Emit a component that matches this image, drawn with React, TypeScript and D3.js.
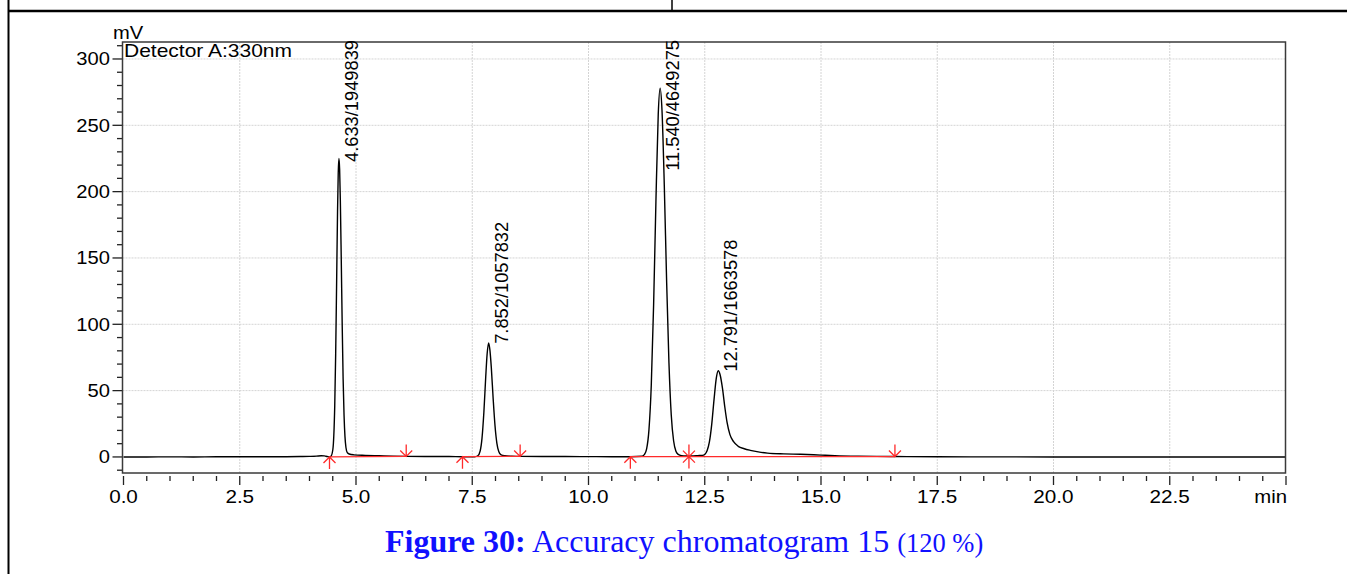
import React, { useEffect, useRef } from 'react';
import * as d3 from 'd3';

const W = 1347;
const H = 574;

// Chromatogram trace (time in min, signal in mV)
const traceTime = [
  0.0, 0.5, 1.0, 1.5, 2.0, 2.5, 3.0, 3.5, 3.8, 4.0, 4.15, 4.25, 4.32, 4.38, 4.43, 4.46,
  4.503, 4.523, 4.543, 4.563, 4.583, 4.603, 4.618, 4.633, 4.648, 4.663, 4.683, 4.703, 4.723, 4.743, 4.763, 4.783, 4.813, 4.853,
  4.95, 5.2, 5.5, 5.8, 6.08, 6.5, 7.0, 7.29, 7.55,
  7.62, 7.67, 7.71, 7.75, 7.79, 7.82, 7.852, 7.88, 7.91, 7.95, 7.99, 8.03, 8.07, 8.12, 8.2, 8.35, 8.53,
  9.0, 9.5, 10.0, 10.5, 10.9, 11.15,
  11.2, 11.25, 11.3, 11.35, 11.4, 11.45, 11.5, 11.54, 11.58, 11.63, 11.68, 11.73, 11.78, 11.83, 11.88, 11.93,
  12.0, 12.1, 12.16, 12.25, 12.35, 12.45,
  12.5, 12.55, 12.6, 12.65, 12.7, 12.75, 12.791, 12.83, 12.88, 12.93, 12.98, 13.04, 13.12, 13.22, 13.35, 13.48,
  13.65, 13.85, 14.2, 14.56, 15.0, 15.3, 15.8, 16.2, 16.59, 17.5, 18.5, 20.0, 22.0, 25.0,
];
const traceMv = [
  0.0, 0.0, 0.05, 0.0, 0.1, 0.1, 0.15, 0.2, 0.3, 0.4, 0.6, 0.9, 0.8, 0.3, 0.0, 0.4,
  5.8, 16.3, 38.8, 77.7, 130.8, 185, 214, 225, 216.8, 193.9, 148.9, 100, 59, 31.5, 15.3, 7.3, 3.2, 2.2,
  1.6, 1.2, 0.9, 0.6, 0.4, 0.3, 0.3, 0.2, 0.2,
  0.9, 4.5, 14.2, 33.7, 60.4, 77.6, 86, 80.5, 67.3, 43.7, 23.3, 10.3, 4.1, 1.5, 0.9, 0.6, 0.4,
  0.3, 0.3, 0.25, 0.2, 0.2, 0.5,
  1.7, 6.1, 20.4, 54, 114.3, 192.6, 258.5, 278, 261.7, 204.7, 132.5, 71, 31.4, 12.2, 4.3, 1.9,
  1.0, 0.7, 0.7, 0.8, 1.0, 1.2,
  1.9, 4.6, 11.3, 24.6, 43.4, 59.8, 65, 62, 52, 38, 26, 17, 11.5, 8, 6.2, 5,
  3.8, 2.9, 2.3, 2.0, 1.4, 1.0, 0.6, 0.4, 0.3, 0.1, 0.05, 0.0, 0.0, 0.0,
];

// Peak table
const peakTime = [4.633, 7.852, 11.54, 12.791];
const peakHeight = [225, 86, 278, 65];
const peakArea = [1949839, 1057832, 4649275, 1663578];

// Integration baselines
const integStart = [4.43, 7.29, 10.9, 12.16];
const integStartMv = [0.0, 0.2, 0.2, 0.25];
const integEnd = [6.08, 8.53, 12.16, 16.59];
const integEndMv = [0.4, 0.4, 0.25, 0.3];

// Axes
const xMajorTicks = [0, 2.5, 5, 7.5, 10, 12.5, 15, 17.5, 20, 22.5];
const xTickLabels = ['0.0', '2.5', '5.0', '7.5', '10.0', '12.5', '15.0', '17.5', '20.0', '22.5'];
const yMajorTicks = [0, 50, 100, 150, 200, 250, 300];
const yTickLabels = ['0', '50', '100', '150', '200', '250', '300'];

const FONT = "'Liberation Sans', Arial, Helvetica, sans-serif";
const SERIF = "'Liberation Serif', 'Times New Roman', serif";
const RED = '#ff2a2a';

export default function App() {
  const ref = useRef<SVGSVGElement>(null);

  useEffect(() => {
    const svg = d3.select(ref.current as SVGSVGElement);
    svg.selectAll('*').remove();

    const left = 122.5, right = 1285.5, top = 42, bottom = 473;
    const x = d3.scaleLinear().domain([0, 25]).range([123.5, 1286]);
    const y = d3.scaleLinear().domain([-12.1, 312.8]).range([473, 42]);

    svg.append('rect').attr('width', W).attr('height', H).attr('fill', '#fff');

    // page frame lines
    svg.append('line').attr('x1', 8).attr('x2', W).attr('y1', 11).attr('y2', 11)
      .attr('stroke', '#000').attr('stroke-width', 2.5);
    svg.append('line').attr('x1', 8.5).attr('x2', 8.5).attr('y1', 0).attr('y2', H)
      .attr('stroke', '#000').attr('stroke-width', 2);
    svg.append('line').attr('x1', 672).attr('x2', 672).attr('y1', 0).attr('y2', 11)
      .attr('stroke', '#000').attr('stroke-width', 1.5);

    // grid
    const grid = svg.append('g').attr('stroke', '#d4d4d4').attr('stroke-width', 1)
      .attr('stroke-dasharray', '2,1');
    xMajorTicks.filter(t => t > 0).forEach(t => {
      grid.append('line').attr('x1', x(t)).attr('x2', x(t)).attr('y1', top).attr('y2', bottom);
    });
    yMajorTicks.filter(v => v > 0).forEach(v => {
      grid.append('line').attr('x1', left).attr('x2', right).attr('y1', y(v)).attr('y2', y(v));
    });

    // y axis ticks
    const ax = svg.append('g').attr('stroke', '#222').attr('stroke-width', 1.3);
    d3.range(-10, 311, 10).forEach(v => {
      const major = v % 50 === 0;
      ax.append('line').attr('x1', left - (major ? 10 : 5.5)).attr('x2', left)
        .attr('y1', y(v)).attr('y2', y(v));
    });
    // x axis ticks
    d3.range(0, 25.01, 0.5).forEach(t => {
      const major = Math.abs(t / 2.5 - Math.round(t / 2.5)) < 1e-6;
      ax.append('line').attr('x1', x(t)).attr('x2', x(t))
        .attr('y1', bottom + 3).attr('y2', bottom + (major ? 12 : 8));
    });

    const stext = (px: number, py: number, s: string, size: number, anchor: string, sx: number) =>
      svg.append('text')
        .attr('transform', `translate(${px},${py}) scale(${sx},1)`)
        .attr('text-anchor', anchor)
        .attr('font-family', FONT)
        .attr('font-size', size)
        .attr('fill', '#000')
        .text(s);

    yMajorTicks.forEach((v, i) => stext(110, y(v) + 6.5, yTickLabels[i], 18, 'end', 1.12));
    xMajorTicks.forEach((t, i) => stext(x(t), 502.5, xTickLabels[i], 18, 'middle', 1.15));
    stext(x(25) + 1, 502.5, 'min', 18, 'end', 1.13);
    stext(113, 39, 'mV', 18, 'start', 1.12);

    // trace
    const pts: [number, number][] = traceTime.map((t, i) => [t, traceMv[i]]);
    const line = d3.line<[number, number]>()
      .x(d => x(d[0])).y(d => y(d[1]))
      .curve(d3.curveMonotoneX);
    svg.append('path').attr('d', line(pts) as string)
      .attr('fill', 'none').attr('stroke', '#000').attr('stroke-width', 1.4);

    // integration baselines
    const red = svg.append('g').attr('stroke', RED).attr('stroke-width', 1.3).attr('fill', 'none');
    integStart.forEach((t, i) => {
      red.append('line').attr('x1', x(t)).attr('y1', y(integStartMv[i]))
        .attr('x2', x(integEnd[i])).attr('y2', y(integEndMv[i]));
    });
    const upArrow = (t: number, v: number) => {
      const px = x(t), py = y(v);
      red.append('path').attr('d', `M${px},${py}V${py + 12}M${px - 6},${py + 6}L${px},${py}L${px + 6},${py + 6}`);
    };
    const downArrow = (t: number, v: number) => {
      const px = x(t), py = y(v);
      red.append('path').attr('d', `M${px},${py}V${py - 12}M${px - 6},${py - 6}L${px},${py}L${px + 6},${py - 6}`);
    };
    integStart.forEach((t, i) => upArrow(t, integStartMv[i]));
    integEnd.forEach((t, i) => downArrow(t, integEndMv[i]));

    // plot border
    svg.append('rect').attr('x', left).attr('y', top).attr('width', right - left).attr('height', bottom - top)
      .attr('fill', 'none').attr('stroke', '#3a3a3a').attr('stroke-width', 1.5);

    stext(124, 57, 'Detector A:330nm', 17.5, 'start', 1.2);

    // peak labels
    peakTime.forEach((t, i) => {
      const lx = x(t) + 19;
      const txt = svg.append('text')
        .attr('font-family', FONT).attr('font-size', 18.3).attr('fill', '#000')
        .attr('text-anchor', 'start')
        .text(`${t.toFixed(3)}/${peakArea[i]}`);
      const len = (txt.node() as SVGTextElement).getComputedTextLength();
      let ly = y(peakHeight[i]) + 1;
      if (ly - len < 40) ly = 40 + len;
      txt.attr('transform', `translate(${lx},${ly}) rotate(-90)`);
    });

    // caption
    const cap = svg.append('text').attr('x', 385).attr('y', 552)
      .attr('font-family', SERIF).attr('fill', '#1010ff').attr('font-size', 32);
    cap.append('tspan').attr('font-weight', 'bold').text('Figure 30:');
    cap.append('tspan').text(' Accuracy chromatogram 15 ');
    cap.append('tspan').attr('font-size', 26.5).text('(120 %)');
  }, []);

  return (
    <svg ref={ref} width={W} height={H}
      style={{ position: 'absolute', left: 0, top: 0, display: 'block', background: '#fff' }} />
  );
}
